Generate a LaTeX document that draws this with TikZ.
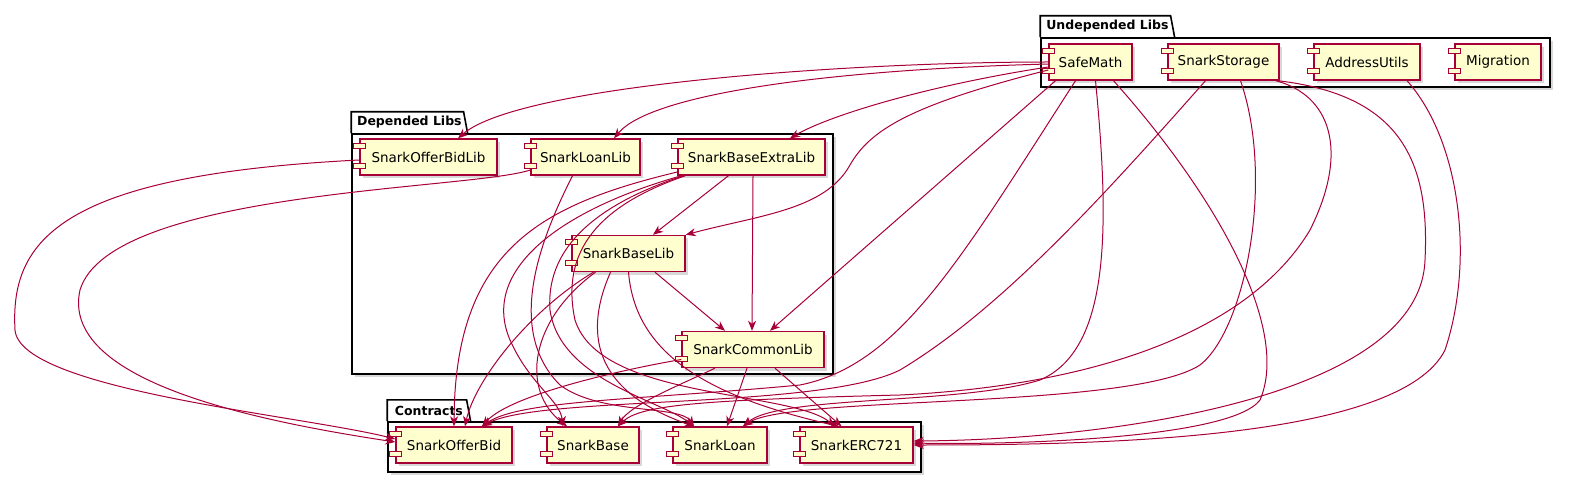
\documentclass[tikz,border=0pt]{standalone}
\usepackage{fontspec}
\setmainfont{DejaVu Sans}
\usetikzlibrary{arrows.meta,shadows}
\definecolor{UmlRed}{HTML}{A80036}
\definecolor{UmlYellow}{HTML}{FEFECE}

\begin{document}
\begin{tikzpicture}[x=1bp, y=-1bp,
  comp/.style={rectangle, draw=UmlRed, line width=1.4bp, fill=UmlYellow,
               drop shadow={shadow xshift=3bp, shadow yshift=-3bp, opacity=0.3},
               minimum height=36bp, inner sep=0pt,
               font=\fontsize{13.5bp}{16bp}\selectfont},
  icon/.style={draw=UmlRed, line width=1.2bp, fill=UmlYellow},
  pkg/.style={rectangle, draw=black, line width=1.6bp, fill=white,
              drop shadow={shadow xshift=3bp, shadow yshift=-3bp, opacity=0.3},
              inner sep=0pt},
  pkgtab/.style={anchor=south west, inner sep=0pt, minimum height=21bp,
                 font=\bfseries\fontsize{12.5bp}{15bp}\selectfont},
  tabline/.style={draw=black, line width=1.6bp},
  dep/.style={draw=UmlRed, line width=1bp,
              -{Stealth[length=10bp, width=8bp, inset=3bp]}}
]
  \useasboundingbox[fill=white] (0,0) rectangle (1570,482);

  \node[pkg, minimum width=509bp, minimum height=49bp] (undep) at (1295.5,62.5) {};
  \node[pkgtab, minimum width=134bp] (undeptab) at (undep.north west) {Undepended Libs};
  \draw[tabline] (undeptab.south west) -- (undeptab.north west)
        -- ([xshift=-4bp]undeptab.north east) -- (undeptab.south east);

  \node[pkg, minimum width=481bp, minimum height=240bp] (deplibs) at (592.5,254) {};
  \node[pkgtab, minimum width=116bp] (deptab) at (deplibs.north west) {Depended Libs};
  \draw[tabline] (deptab.south west) -- (deptab.north west)
        -- ([xshift=-4bp]deptab.north east) -- (deptab.south east);

  \node[pkg, minimum width=533bp, minimum height=50bp] (contracts) at (654.5,447) {};
  \node[pkgtab, minimum width=83bp] (contab) at (contracts.north west) {Contracts};
  \draw[tabline] (contab.south west) -- (contab.north west)
        -- ([xshift=-4bp]contab.north east) -- (contab.south east);

  \node[comp, minimum width=83bp]  (safemath)  at (1090.5,62) {SafeMath};
  \node[comp, minimum width=111bp] (storage)   at (1223.5,62) {SnarkStorage};
  \node[comp, minimum width=106bp] (addrutils) at (1367,62)   {AddressUtils};
  \node[comp, minimum width=86bp]  (migration) at (1498,62)   {Migration};

  \node[comp, minimum width=137bp] (offerbidlib)  at (428.5,157) {SnarkOfferBidLib};
  \node[comp, minimum width=109bp] (loanlib)      at (585.5,157) {SnarkLoanLib};
  \node[comp, minimum width=147bp] (baseextralib) at (751.5,157) {SnarkBaseExtraLib};
  \node[comp, minimum width=113bp] (baselib)      at (628.5,253.5) {SnarkBaseLib};
  \node[comp, minimum width=142bp] (commonlib)    at (753,349.5) {SnarkCommonLib};

  \node[comp, minimum width=116bp] (offerbid) at (454,445)   {SnarkOfferBid};
  \node[comp, minimum width=92bp]  (base)     at (593,445)   {SnarkBase};
  \node[comp, minimum width=94bp]  (loan)     at (720,445)   {SnarkLoan};
  \node[comp, minimum width=113bp] (erc721)   at (856.5,445) {SnarkERC721};

  \foreach \c in {safemath,storage,addrutils,migration,offerbidlib,loanlib,
                  baseextralib,baselib,commonlib,offerbid,base,loan,erc721} {
    \draw[icon] ([xshift=-6bp,yshift=-5bp]\c.north west) rectangle ([xshift=6bp,yshift=-10bp]\c.north west);
    \draw[icon] ([xshift=-6bp,yshift=7bp]\c.south west) rectangle ([xshift=6bp,yshift=12bp]\c.south west);
  }

  \draw[dep] (safemath.west) .. controls (850,62) and (520,85) .. ([xshift=29.5bp]offerbidlib.north);
  \draw[dep] ([yshift=-2bp]safemath.west) .. controls (820,70) and (650,95) .. ([xshift=28.5bp]loanlib.north);
  \draw[dep] ([yshift=-5bp]safemath.west) .. controls (930,85) and (830,115) .. ([xshift=38.5bp]baseextralib.north);
  \draw[dep] ([yshift=-8bp]safemath.west) .. controls (910,105) and (870,130) .. (850,165)
        .. controls (825,210) and (760,215) .. (baselib.north east);
  \draw[dep] ([xshift=-35bp]safemath.south) -- ([xshift=17bp]commonlib.north);
  \draw[dep] ([xshift=-15bp]safemath.south) .. controls (960,260) and (900,365) .. (800,385)
        .. controls (640,400) and (520,400) .. ([xshift=28bp]offerbid.north);
  \draw[dep] ([xshift=5bp]safemath.south) .. controls (1110,230) and (1110,350) .. (1040,380)
        .. controls (960,405) and (780,395) .. ([xshift=23bp]loan.north);
  \draw[dep] ([xshift=23bp]safemath.south) .. controls (1220,200) and (1290,330) .. (1260,400)
        .. controls (1230,440) and (1000,445) .. ([yshift=2bp]erc721.east);

  \draw[dep] ([xshift=-18bp]storage.south) .. controls (1100,200) and (1000,310) .. (900,370)
        .. controls (820,410) and (540,395) .. ([xshift=28bp]offerbid.north);
  \draw[dep] ([xshift=17bp]storage.south) .. controls (1275,180) and (1245,330) .. (1200,365)
        .. controls (1130,410) and (790,395) .. ([xshift=23bp]loan.north);
  \draw[dep] ([xshift=-4bp]storage.south east) .. controls (1330,95) and (1350,150) .. (1310,230)
        .. controls (1250,330) and (1100,385) .. (900,395)
        .. controls (700,400) and (640,405) .. ([xshift=25bp]base.north);
  \draw[dep] ([xshift=-2bp]storage.south east) .. controls (1400,95) and (1430,160) .. (1425,260)
        .. controls (1420,400) and (1100,440) .. ([yshift=4bp]erc721.east);
  \draw[dep] ([xshift=40bp]addrutils.south) .. controls (1460,140) and (1475,260) .. (1445,350)
        .. controls (1400,440) and (1100,445) .. (erc721.east);

  \draw[dep] ([yshift=-3bp]offerbidlib.west) .. controls (60,175) and (10,240) .. (15,330)
        .. controls (20,390) and (300,415) .. ([yshift=6bp]offerbid.west);
  \draw[dep] ([yshift=-13bp]loanlib.west) .. controls (470,190) and (110,190) .. (80,290)
        .. controls (60,380) and (250,420) .. ([yshift=3bp]offerbid.west);
  \draw[dep] ([xshift=-13bp]loanlib.south) .. controls (540,240) and (505,330) .. (560,385)
        .. controls (600,415) and (680,405) .. ([xshift=-26bp]loan.north);

  \draw[dep] ([xshift=-23bp]baseextralib.south) -- ([xshift=24.5bp]baselib.north);
  \draw[dep] ([xshift=1.5bp]baseextralib.south) -- ([xshift=-1bp]commonlib.north);
  \draw[dep] ([yshift=-15bp]baseextralib.west) .. controls (540,205) and (455,250) .. (offerbid.north);
  \draw[dep] ([xshift=-70bp]baseextralib.south) .. controls (560,210) and (480,270) .. (510,340)
        .. controls (530,385) and (560,400) .. ([xshift=-30bp]base.north);
  \draw[dep] ([xshift=-68bp]baseextralib.south) .. controls (610,200) and (545,240) .. (550,310)
        .. controls (560,380) and (660,400) .. ([xshift=-26bp]loan.north);
  \draw[dep] ([xshift=-66bp]baseextralib.south) .. controls (600,205) and (560,250) .. (575,320)
        .. controls (600,400) and (790,390) .. ([xshift=-21.5bp]erc721.north);

  \draw[dep] ([xshift=26.5bp]baselib.south) -- ([xshift=-28bp]commonlib.north);
  \draw[dep] ([xshift=-35bp]baselib.south) .. controls (530,310) and (475,380) .. ([xshift=11bp]offerbid.north);
  \draw[dep] ([xshift=-33bp]baselib.south) .. controls (530,320) and (520,390) .. ([xshift=-26bp]base.north);
  \draw[dep] ([xshift=-18bp]baselib.south) .. controls (585,330) and (590,390) .. ([xshift=-26bp]loan.north);
  \draw[dep] (baselib.south) .. controls (635,350) and (700,395) .. ([xshift=-17.5bp]erc721.north);

  \draw[dep] ([yshift=-10bp]commonlib.west) .. controls (620,370) and (510,395) .. ([xshift=28bp]offerbid.north);
  \draw[dep] ([xshift=-38bp]commonlib.south) .. controls (680,385) and (630,405) .. ([xshift=25bp]base.north);
  \draw[dep] ([xshift=-6bp]commonlib.south) -- ([xshift=7bp]loan.north);
  \draw[dep] ([xshift=22bp]commonlib.south) -- ([xshift=-15bp]erc721.north);
\end{tikzpicture}
\end{document}
